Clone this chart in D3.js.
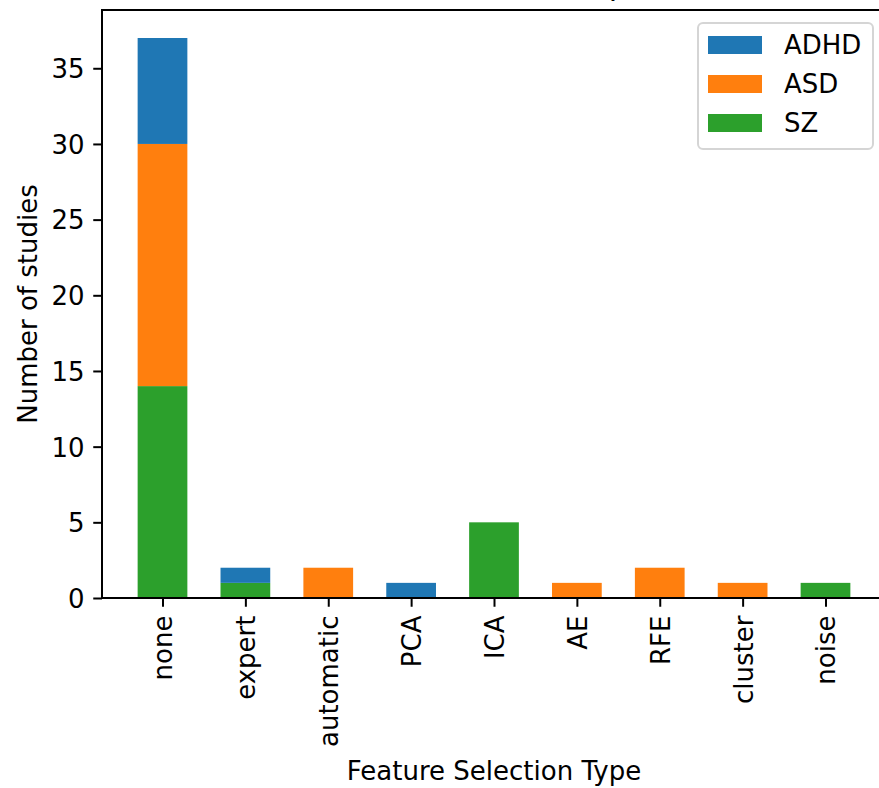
<!DOCTYPE html>
<html>
<head>
<meta charset="utf-8">
<script src="https://cdn.jsdelivr.net/npm/d3@7"></script>
<style>
  body { margin: 0; background: #fff; }
  svg text { font-family: "DejaVu Sans", sans-serif; fill: #000; }
</style>
</head>
<body>
<div id="chart"></div>
<script>
var categories = ['none', 'expert', 'automatic', 'PCA', 'ICA', 'AE', 'RFE', 'cluster', 'noise'];
var seriesNames = ['SZ', 'ASD', 'ADHD'];
var szValues   = [14, 1, 0, 0, 5, 0, 0, 0, 1];
var asdValues  = [16, 0, 2, 0, 0, 1, 2, 1, 0];
var adhdValues = [7, 1, 0, 1, 0, 0, 0, 0, 0];
var colors = {ADHD: '#1f77b4', ASD: '#ff7f0e', SZ: '#2ca02c'};
var legendOrder = ['ADHD', 'ASD', 'SZ'];
var yTicks = [0, 5, 10, 15, 20, 25, 30, 35];

var Chart = function(width, height, parent){
  this.width = width;
  this.height = height;
  this.parent = parent;
  this.margin = {top: 10, left: 102};
  this.plotW = 784;
  this.plotH = 588;
}

Chart.prototype.create = function(){
  var m = this.margin, w = this.plotW, h = this.plotH;
  var fs = '26px';

  var svg = d3.select(this.parent).append('svg')
    .attr('width', this.width)
    .attr('height', this.height);

  var rows = categories.map(function(c, i){
    return {cat: c, SZ: szValues[i], ASD: asdValues[i], ADHD: adhdValues[i]};
  });
  var stacked = d3.stack().keys(seriesNames)(rows);

  // matplotlib-like limits: bar width 0.6, 5% margins
  var x = d3.scaleLinear().domain([-0.73, categories.length - 1 + 0.73]).range([0, w]);
  var ymax = d3.max(rows, function(d){ return d.SZ + d.ASD + d.ADHD; });
  var y = d3.scaleLinear().domain([0, ymax * 1.05]).range([h, 0]);
  var barW = x(0.6) - x(0);

  var g = svg.append('g').attr('transform', 'translate(' + m.left + ',' + m.top + ')');

  g.selectAll('g.layer')
    .data(stacked)
    .enter().append('g')
    .attr('class', 'layer')
    .attr('fill', function(d){ return colors[d.key]; })
    .selectAll('rect')
    .data(function(d){ return d; })
    .enter().append('rect')
    .attr('x', function(d, i){ return x(i) - barW / 2; })
    .attr('width', barW)
    .attr('y', function(d){ return y(d[1]); })
    .attr('height', function(d){ return y(d[0]) - y(d[1]); });

  // axes
  var yAxis = d3.axisLeft(y).tickValues(yTicks).tickSize(8.75).tickPadding(8.75);
  var xAxis = d3.axisBottom(x).tickValues(d3.range(categories.length))
    .tickFormat(function(i){ return categories[i]; })
    .tickSize(8.75).tickPadding(8.75);

  var ya = g.append('g').call(yAxis);
  ya.select('.domain').remove();
  ya.selectAll('line').attr('stroke', '#000').attr('stroke-width', 2);
  ya.selectAll('text').style('font-size', fs).attr('dy', '0.36em');

  var xa = g.append('g').attr('transform', 'translate(0,' + h + ')').call(xAxis);
  xa.select('.domain').remove();
  xa.selectAll('line').attr('stroke', '#000').attr('stroke-width', 2);
  xa.selectAll('text')
    .style('font-size', fs)
    .attr('transform', 'rotate(-90)')
    .attr('x', -17.5)
    .attr('y', 0)
    .attr('dy', '0.36em')
    .attr('text-anchor', 'end');

  // spines
  g.append('rect')
    .attr('x', 0).attr('y', 0).attr('width', w).attr('height', h)
    .attr('fill', 'none').attr('stroke', '#000').attr('stroke-width', 2);

  // labels
  svg.append('text')
    .attr('x', m.left + w / 2).attr('y', 780)
    .attr('text-anchor', 'middle')
    .style('font-size', fs)
    .text('Feature Selection Type');

  svg.append('text')
    .attr('transform', 'translate(37,' + (m.top + h / 2) + ') rotate(-90)')
    .attr('text-anchor', 'middle')
    .style('font-size', fs)
    .text('Number of studies');

  // title (sits above the top edge, only a descender shows)
  svg.append('text')
    .attr('x', m.left + w / 2).attr('y', -5)
    .attr('text-anchor', 'middle')
    .style('font-size', '31px')
    .text('Feature Selection Methods per Disorder');

  // legend
  var lg = svg.append('g').attr('transform', 'translate(698,23)');
  lg.append('rect')
    .attr('width', 175).attr('height', 126).attr('rx', 5).attr('ry', 5)
    .attr('fill', 'rgba(255,255,255,0.8)')
    .attr('stroke', '#d5d5d5').attr('stroke-width', 2);
  var items = lg.selectAll('g.item')
    .data(legendOrder)
    .enter().append('g')
    .attr('class', 'item')
    .attr('transform', function(d, i){ return 'translate(0,' + (22 + i * 39) + ')'; });
  items.append('rect')
    .attr('x', 10).attr('y', -9).attr('width', 54).attr('height', 18)
    .attr('fill', function(d){ return colors[d]; });
  items.append('text')
    .attr('x', 86).attr('dy', '0.36em')
    .style('font-size', fs)
    .text(function(d){ return d; });
}

var chart = new Chart(879, 788, '#chart');
chart.create();
</script>
</body>
</html>
